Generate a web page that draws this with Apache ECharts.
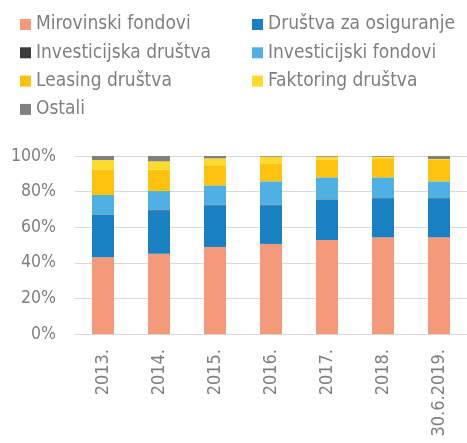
<!DOCTYPE html>
<html>
<head>
<meta charset="utf-8">
<script src="https://cdn.jsdelivr.net/npm/echarts@6/dist/echarts.min.js"></script>
<style>
  html, body { margin: 0; padding: 0; background: #fff; }
  #chart { width: 467px; height: 443px; }
</style>
</head>
<body>
<div id="chart"></div>
<script>
// kategorije (godine)
const categories = ['2013.', '2014.', '2015.', '2016.', '2017.', '2018.', '30.6.2019.'];
const yTicks = ['0%', '20%', '40%', '60%', '80%', '100%'];

// udjeli u %, procijenjeno sa slike
const mirovinski   = [43.1, 45.1, 48.9, 50.6, 52.8, 54.3, 54.3];
const osiguranje   = [23.9, 24.4, 23.4, 21.7, 22.7, 21.9, 21.9];
const invDrustva   = [0.2, 0.2, 0.2, 0.2, 0.2, 0.2, 0.2];
const invFondovi   = [10.9, 10.6, 11.0, 13.3, 12.3, 11.6, 9.4];
const leasing      = [14.4, 12.0, 11.3, 10.1, 10.1, 10.7, 12.0];
const faktoring    = [5.2, 4.7, 3.9, 3.7, 1.5, 0.9, 0.5];
const ostali       = [2.3, 3.0, 1.3, 0.4, 0.4, 0.4, 1.7];

const font = "'Liberation Sans Narrow', 'DejaVu Sans Condensed', 'Liberation Sans', sans-serif";
const grey = '#7f7f7f';

const series = [
    { name: 'Mirovinski fondovi', data: mirovinski, color: '#f4997a' },
    { name: 'Društva za osiguranje', data: osiguranje, color: '#1a80c4' },
    { name: 'Investicijska društva', data: invDrustva, color: '#3b3b3b' },
    { name: 'Investicijski fondovi', data: invFondovi, color: '#4fb0e3' },
    { name: 'Leasing društva', data: leasing, color: '#fdc30f' },
    { name: 'Faktoring društva', data: faktoring, color: '#fddb2c' },
    { name: 'Ostali', data: ostali, color: '#808080' }
].map(s => ({
    name: s.name,
    type: 'bar',
    stack: 'udio',
    barWidth: 22,
    data: s.data,
    itemStyle: { color: s.color },
    emphasis: { disabled: true }
}));

const legendBase = {
    orient: 'vertical',
    itemWidth: 11,
    itemHeight: 11,
    itemGap: 9.3,
    icon: 'rect',
    textStyle: { fontFamily: font, fontSize: 19, color: grey, lineHeight: 19 },
    selectedMode: false
};

const chart = echarts.init(document.getElementById('chart'));
chart.setOption({
    animation: false,
    legend: [
        Object.assign({}, legendBase, {
            left: 15, top: 10,
            data: ['Mirovinski fondovi', 'Investicijska društva', 'Leasing društva', 'Ostali']
        }),
        Object.assign({}, legendBase, {
            left: 247, top: 10,
            data: ['Društva za osiguranje', 'Investicijski fondovi', 'Faktoring društva']
        })
    ],
    grid: { left: 75, right: 0, top: 156, bottom: 109, containLabel: false },
    xAxis: {
        type: 'category',
        data: categories,
        axisLine: { lineStyle: { color: '#d9d9d9', width: 1 } },
        axisTick: { show: false },
        axisLabel: {
            rotate: 90,
            margin: 15,
            fontFamily: font,
            fontSize: 18,
            color: grey
        }
    },
    yAxis: {
        type: 'value',
        min: 0,
        max: 100,
        interval: 20,
        axisLine: { show: false },
        axisTick: { show: false },
        splitLine: { lineStyle: { color: '#d9d9d9', width: 1 } },
        axisLabel: {
            margin: 19,
            fontFamily: font,
            fontSize: 17.5,
            color: grey,
            formatter: v => yTicks[v / 20]
        }
    },
    series: series
});
</script>
</body>
</html>
